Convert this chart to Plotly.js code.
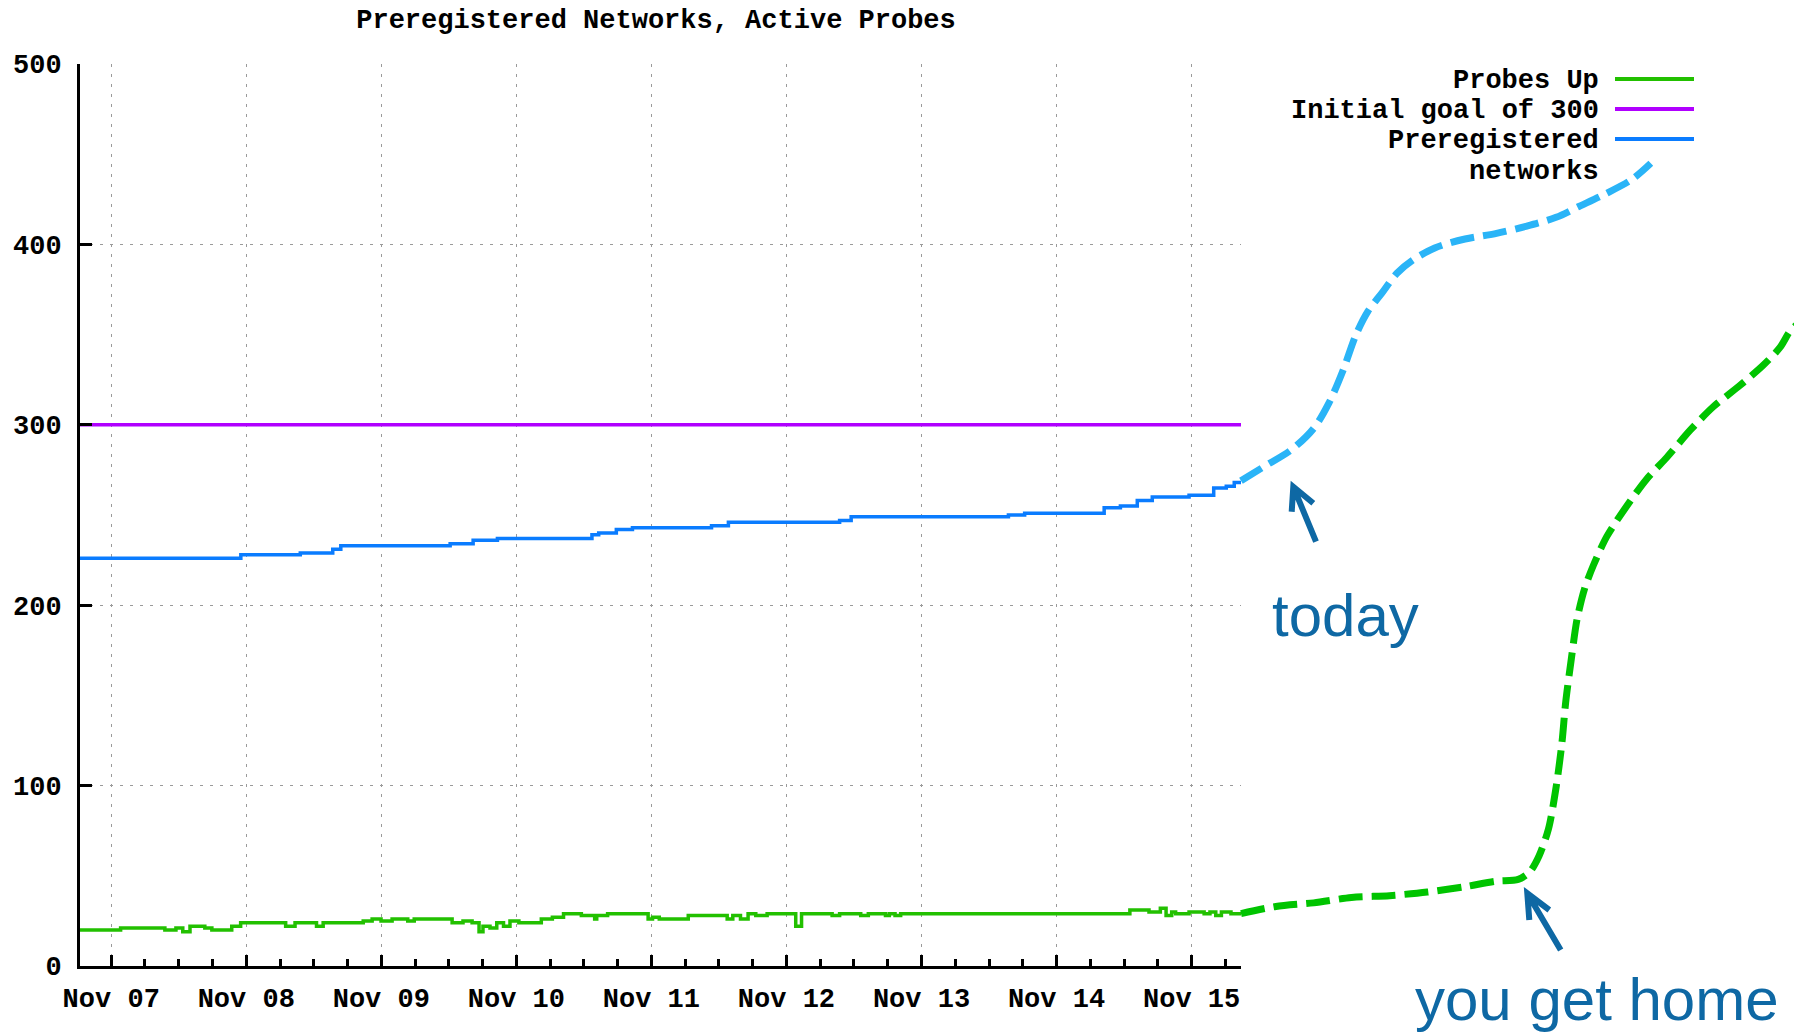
<!DOCTYPE html>
<html>
<head>
<meta charset="utf-8">
<script src="https://cdn.plot.ly/plotly-3.0.1.min.js"></script>
<style>html,body{margin:0;padding:0;background:#fff;}#chart{width:1794px;height:1034px;}</style>
</head>
<body>
<div id="chart"></div>
<script>
// ---------- data ----------
const chartTitle = 'Preregistered Networks, Active Probes';
const seriesNames = ['Probes Up', 'Initial goal of 300', 'Preregistered', 'networks'];

const probesTimes = ['2012-11-06 18:27','2012-11-07 01:40','2012-11-07 09:32','2012-11-07 11:30','2012-11-07 12:43','2012-11-07 14:00','2012-11-07 16:38','2012-11-07 17:53','2012-11-07 21:25','2012-11-07 23:00','2012-11-08 07:00','2012-11-08 08:40','2012-11-08 12:29','2012-11-08 13:40','2012-11-08 20:47','2012-11-08 22:22','2012-11-08 23:57','2012-11-09 01:55','2012-11-09 04:42','2012-11-09 05:51','2012-11-09 12:35','2012-11-09 14:31','2012-11-09 16:08','2012-11-09 17:22','2012-11-09 18:04','2012-11-09 19:19','2012-11-09 20:31','2012-11-09 21:43','2012-11-09 22:52','2012-11-10 00:27','2012-11-10 04:26','2012-11-10 06:24','2012-11-10 08:23','2012-11-10 11:33','2012-11-10 13:55','2012-11-10 14:17','2012-11-10 16:13','2012-11-10 23:25','2012-11-11 00:12','2012-11-11 01:24','2012-11-11 06:33','2012-11-11 13:28','2012-11-11 14:28','2012-11-11 15:50','2012-11-11 17:11','2012-11-11 18:33','2012-11-11 20:34','2012-11-12 01:39','2012-11-12 02:41','2012-11-12 08:07','2012-11-12 09:27','2012-11-12 13:12','2012-11-12 14:33','2012-11-12 17:36','2012-11-12 18:17','2012-11-12 19:18','2012-11-12 20:18','2012-11-14 13:02','2012-11-14 16:26','2012-11-14 18:27','2012-11-14 19:28','2012-11-14 20:28','2012-11-14 21:10','2012-11-14 23:33','2012-11-15 02:14','2012-11-15 03:16','2012-11-15 04:18','2012-11-15 05:18','2012-11-15 07:00','2012-11-15 08:47'];
const probesValues = [20,21,20,21,19,22,21,20,22,24,22,24,22,24,25,26,25,26,25,26,24,25,24,19,22,21,24,22,25,24,26,27,29,28,26,28,29,26,27,26,28,26,28,26,29,28,29,22,29,28,29,28,29,28,29,28,29,31,30,32,28,30,29,30,29,30,28,30,29,29];

const goalTimes = ['2012-11-06 18:27','2012-11-15 08:47'];
const goalValues = [300, 300];

const networksTimes = ['2012-11-06 18:27','2012-11-07 23:02','2012-11-08 09:36','2012-11-08 15:22','2012-11-08 16:48','2012-11-09 12:14','2012-11-09 16:19','2012-11-09 20:38','2012-11-10 13:26','2012-11-10 14:38','2012-11-10 17:46','2012-11-10 20:38','2012-11-11 10:41','2012-11-11 13:41','2012-11-12 09:27','2012-11-12 11:30','2012-11-13 15:27','2012-11-13 18:20','2012-11-14 08:28','2012-11-14 11:21','2012-11-14 14:21','2012-11-14 17:01','2012-11-14 23:33','2012-11-15 03:56','2012-11-15 06:10','2012-11-15 07:35','2012-11-15 08:47'];
const networksValues = [226,228,229,231,233,234,236,237,239,240,242,243,244,246,247,249,250,251,254,255,258,260,261,265,266,268,269];

// hand-drawn extrapolations
const networksGuessTimes = ['2012-11-15 08:47','2012-11-15 12:58','2012-11-15 17:40','2012-11-15 21:42','2012-11-16 00:24','2012-11-16 02:54','2012-11-16 05:14','2012-11-16 07:22','2012-11-16 09:49','2012-11-16 12:30','2012-11-16 15:11','2012-11-16 19:13','2012-11-17 00:36','2012-11-17 06:01','2012-11-17 11:25','2012-11-17 16:47','2012-11-17 20:50','2012-11-18 01:32','2012-11-18 06:14','2012-11-18 09:37'];
const networksGuessValues = [269,277,286,298,312,330,350,363,373,384,391,398,403,406,410,415,421,428,436,445];

const probesGuessTimes = ['2012-11-15 08:47','2012-11-15 14:59','2012-11-15 21:42','2012-11-16 04:25','2012-11-16 11:10','2012-11-16 17:54','2012-11-17 00:38','2012-11-17 06:01','2012-11-17 10:03','2012-11-17 12:04','2012-11-17 13:45','2012-11-17 15:26','2012-11-17 16:47','2012-11-17 17:48','2012-11-17 18:29','2012-11-17 19:29','2012-11-17 20:30','2012-11-17 21:50','2012-11-17 23:24','2012-11-18 01:47','2012-11-18 05:21','2012-11-18 08:54','2012-11-18 12:29','2012-11-18 16:37','2012-11-18 20:43','2012-11-19 01:08','2012-11-19 05:35','2012-11-19 08:37','2012-11-19 10:23','2012-11-19 12:10'];
const probesGuessValues = [29,33,35,38,39,41,44,47,48,52,61,76,99,123,146,170,192,209,222,238,255,270,282,297,310,321,333,343,352,357];

const noteToday = 'today';
const noteHome = 'you get home';

// ---------- styles ----------
const W = 1794, H = 1034;
const px = v => v / W;
const py = v => 1 - v / H;
const mono = 'Liberation Mono, DejaVu Sans Mono, monospace';
const sans = 'Liberation Sans, Arial, Helvetica, sans-serif';
const C = {green:'#22c000', purple:'#b000ff', blue:'#0a7cff', lightBlue:'#2ab4f7', dashGreen:'#00c400', note:'#0e68a4', grid:'#9a9a9a'};

const traces = [
  {x: networksTimes, y: networksValues, type:'scatter', mode:'lines', line:{shape:'hv', color:C.blue, width:3.5}, name:seriesNames[2]+' '+seriesNames[3], xaxis:'x', yaxis:'y'},
  {x: goalTimes, y: goalValues, type:'scatter', mode:'lines', line:{color:C.purple, width:3.5}, name:seriesNames[1], xaxis:'x', yaxis:'y'},
  {x: probesTimes, y: probesValues, type:'scatter', mode:'lines', line:{shape:'hv', color:C.green, width:3.5}, name:seriesNames[0], xaxis:'x', yaxis:'y'},
  {x: networksGuessTimes, y: networksGuessValues, type:'scatter', mode:'lines', line:{shape:'spline', smoothing:0.9, color:C.lightBlue, width:7, dash:'24px,9px'}, xaxis:'x2', yaxis:'y2', name:'guess networks'},
  {x: probesGuessTimes, y: probesGuessValues, type:'scatter', mode:'lines', line:{shape:'spline', smoothing:0.8, color:C.dashGreen, width:7, dash:'24px,9px'}, xaxis:'x2', yaxis:'y2', name:'guess probes'}
];

const yDomain = [py(966), py(64)];
const tickFont = {family: mono, size: 27, color:'#000', weight:'bold'};

const legendRows = [
  {text: seriesNames[0], y: 81, color: C.green},
  {text: seriesNames[1], y: 111, color: C.purple},
  {text: seriesNames[2], y: 141, color: C.blue},
  {text: seriesNames[3], y: 172, color: null}
];

const annotations = legendRows.map(r => ({
  xref:'paper', yref:'paper', x: px(1601), y: py(r.y), xanchor:'right', yanchor:'middle',
  text: r.text, showarrow:false, font: {family: mono, size: 27, color:'#000', weight:'bold'}
}));
annotations.push({xref:'paper', yref:'paper', x:px(1345), y:py(615), xanchor:'center', yanchor:'middle', text:noteToday, showarrow:false, font:{family:sans, size:60, color:C.note}});
annotations.push({xref:'paper', yref:'paper', x:px(1597), y:py(999), xanchor:'center', yanchor:'middle', text:noteHome, showarrow:false, font:{family:sans, size:60, color:C.note}});

const shapes = legendRows.filter(r => r.color).map(r => ({
  type:'line', xref:'paper', yref:'paper', x0:px(1615), x1:px(1694), y0:py(r.y - 2), y1:py(r.y - 2),
  line:{color:r.color, width:4}
}));
function arrowPath(tail, tip, a1, a2) {
  const p = q => px(q[0]) + ',' + py(q[1]);
  return 'M' + p(tail) + ' L' + p(tip) + ' M' + p(a1) + ' L' + p(tip) + ' L' + p(a2);
}
shapes.push({type:'path', xref:'paper', yref:'paper', path: arrowPath([1316,541.7],[1293.3,486.7],[1291.7,511.7],[1313.3,503.3]), line:{color:C.note, width:6}});
shapes.push({type:'path', xref:'paper', yref:'paper', path: arrowPath([1560.7,950],[1527.3,893.3],[1529.3,920],[1549.3,910]), line:{color:C.note, width:6}});

const layout = {
  width: W, height: H, autosize:false,
  margin:{l:0, r:0, t:0, b:0, pad:0},
  paper_bgcolor:'#ffffff', plot_bgcolor:'rgba(0,0,0,0)',
  showlegend:false,
  title:{text: chartTitle, font:{family: mono, size: 27, color:'#000', weight:'bold'}, xref:'paper', x: px(656), xanchor:'center', yref:'container', y: py(19), yanchor:'middle'},
  xaxis:{
    type:'date', domain:[px(80), px(1241)], range:['2012-11-06 18:27','2012-11-15 08:47'],
    anchor:'y', showline:true, linecolor:'#000', linewidth:3,
    ticks:'inside', ticklen:11, tickwidth:3, tickcolor:'#000',
    tick0:'2012-11-07', dtick:86400000, tickformat:'%b %d', tickfont: tickFont, ticklabelstandoff: 6,
    showgrid:true, gridcolor:C.grid, gridwidth:1.2, griddash:'3px,7px', zeroline:false,
    minor:{tick0:'2012-11-07', dtick:21600000, ticks:'inside', ticklen:7, tickwidth:3, tickcolor:'#000', showgrid:false},
    fixedrange:true
  },
  yaxis:{
    domain: yDomain, range:[0,500], anchor:'x', showline:true, linecolor:'#000', linewidth:3,
    ticks:'inside', ticklen:12, tickwidth:3, tickcolor:'#000', dtick:100, tickfont: tickFont, ticklabelstandoff: 10,
    showgrid:true, gridcolor:C.grid, gridwidth:1.2, griddash:'3px,7px', zeroline:false, fixedrange:true
  },
  xaxis2:{type:'date', domain:[0,1], range:['2012-11-06 04:14','2012-11-19 11:04'], anchor:'y2', visible:false, showgrid:false, zeroline:false, fixedrange:true},
  yaxis2:{domain: yDomain, range:[0,500], anchor:'x2', visible:false, showgrid:false, zeroline:false, fixedrange:true},
  annotations: annotations,
  shapes: shapes
};

Plotly.newPlot('chart', traces, layout, {displayModeBar:false, staticPlot:true});
</script>
</body>
</html>
